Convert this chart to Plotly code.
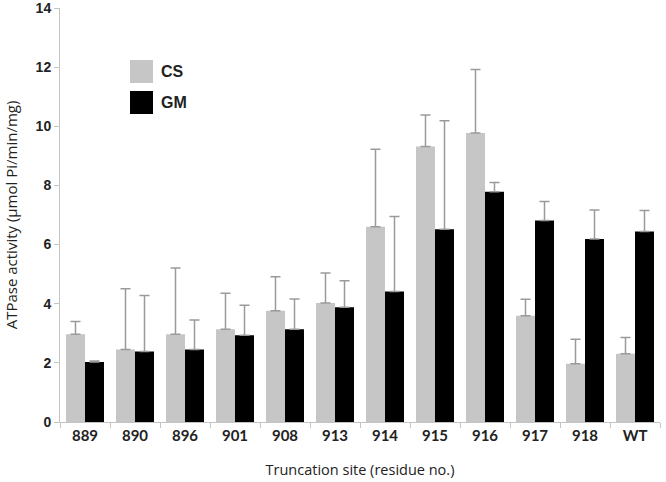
import plotly.graph_objects as go

sites = ["889", "890", "896", "901", "908", "913", "914", "915", "916", "917", "918", "WT"]
cs_values = [2.97, 2.45, 2.97, 3.14, 3.76, 4.02, 6.60, 9.32, 9.77, 3.59, 1.97, 2.31]
cs_errors = [0.43, 2.06, 2.24, 1.21, 1.15, 1.02, 2.62, 1.06, 2.15, 0.56, 0.83, 0.55]
gm_values = [2.03, 2.38, 2.45, 2.93, 3.14, 3.88, 4.41, 6.52, 7.79, 6.81, 6.19, 6.44]
gm_errors = [0.03, 1.90, 1.00, 1.02, 1.02, 0.90, 2.54, 3.67, 0.31, 0.65, 0.98, 0.71]
series_names = ["CS", "GM"]
series_colors = ["#c6c6c6", "#000000"]

ERR_COLOR = "#9a9a9a"
AXIS_COLOR = "#c4c4c4"
TEXT_COLOR = "#222222"

# plot area in pixels (reference)
L, R, T, B = 60, 660, 8, 422

fig = go.Figure()

for name, vals, errs, color in zip(series_names, [cs_values, gm_values],
                                   [cs_errors, gm_errors], series_colors):
    fig.add_trace(go.Bar(
        x=sites, y=vals, name=name,
        marker=dict(color=color, line=dict(width=0)),
        error_y=dict(type="data", array=errs, symmetric=False,
                     arrayminus=[0] * len(errs),
                     color=ERR_COLOR, thickness=1.5, width=5),
        showlegend=False,
    ))

# custom legend: big square swatches like the original
def px_x(x):
    return (x - L) / (R - L)

def px_y(y):
    return (B - y) / (B - T)

legend_x0, legend_top, sw, gap = 130, 60, 23, 31
for i, (name, color) in enumerate(zip(series_names, series_colors)):
    y0 = legend_top + i * gap
    fig.add_shape(type="rect", xref="paper", yref="paper",
                  x0=px_x(legend_x0), x1=px_x(legend_x0 + sw),
                  y0=px_y(y0), y1=px_y(y0 + sw),
                  fillcolor=color, line=dict(width=0))
    fig.add_annotation(xref="paper", yref="paper",
                       x=px_x(legend_x0 + sw + 6), y=px_y(y0 + sw / 2),
                       text="<b>%s</b>" % name, showarrow=False,
                       xanchor="left", yanchor="middle",
                       font=dict(family="Liberation Sans", size=16, color=TEXT_COLOR))

fig.update_layout(
    width=666, height=482,
    margin=dict(l=L, r=666 - R, t=T, b=482 - B, autoexpand=False),
    paper_bgcolor="white", plot_bgcolor="white",
    barmode="group", bargap=0.24, bargroupgap=0,
    xaxis=dict(
        automargin=False,
        showline=True, linecolor=AXIS_COLOR, linewidth=1,
        ticks="outside", tickson="boundaries", ticklen=5, tickcolor=AXIS_COLOR,
        tickfont=dict(family="Lato", size=15, color=TEXT_COLOR, weight="bold"),
        title=dict(text="Truncation site (residue no.)", standoff=21,
                   font=dict(family="Open Sans", size=14.5, color=TEXT_COLOR)),
    ),
    yaxis=dict(
        automargin=False,
        range=[0, 14], dtick=2, showgrid=False, zeroline=False,
        showline=True, linecolor=AXIS_COLOR, linewidth=1,
        ticks="outside", ticklen=5, tickcolor=AXIS_COLOR, ticklabeloverflow="allow",
        tickfont=dict(family="Liberation Sans", size=14, color=TEXT_COLOR, weight="bold"),
        title=dict(text="ATPase activity (µmol Pi/min/mg)", standoff=14,
                   font=dict(family="Open Sans", size=15, color=TEXT_COLOR)),
    ),
)

fig.write_html("out.html", config={"displayModeBar": False},
               post_script="document.body.style.margin='0';")
